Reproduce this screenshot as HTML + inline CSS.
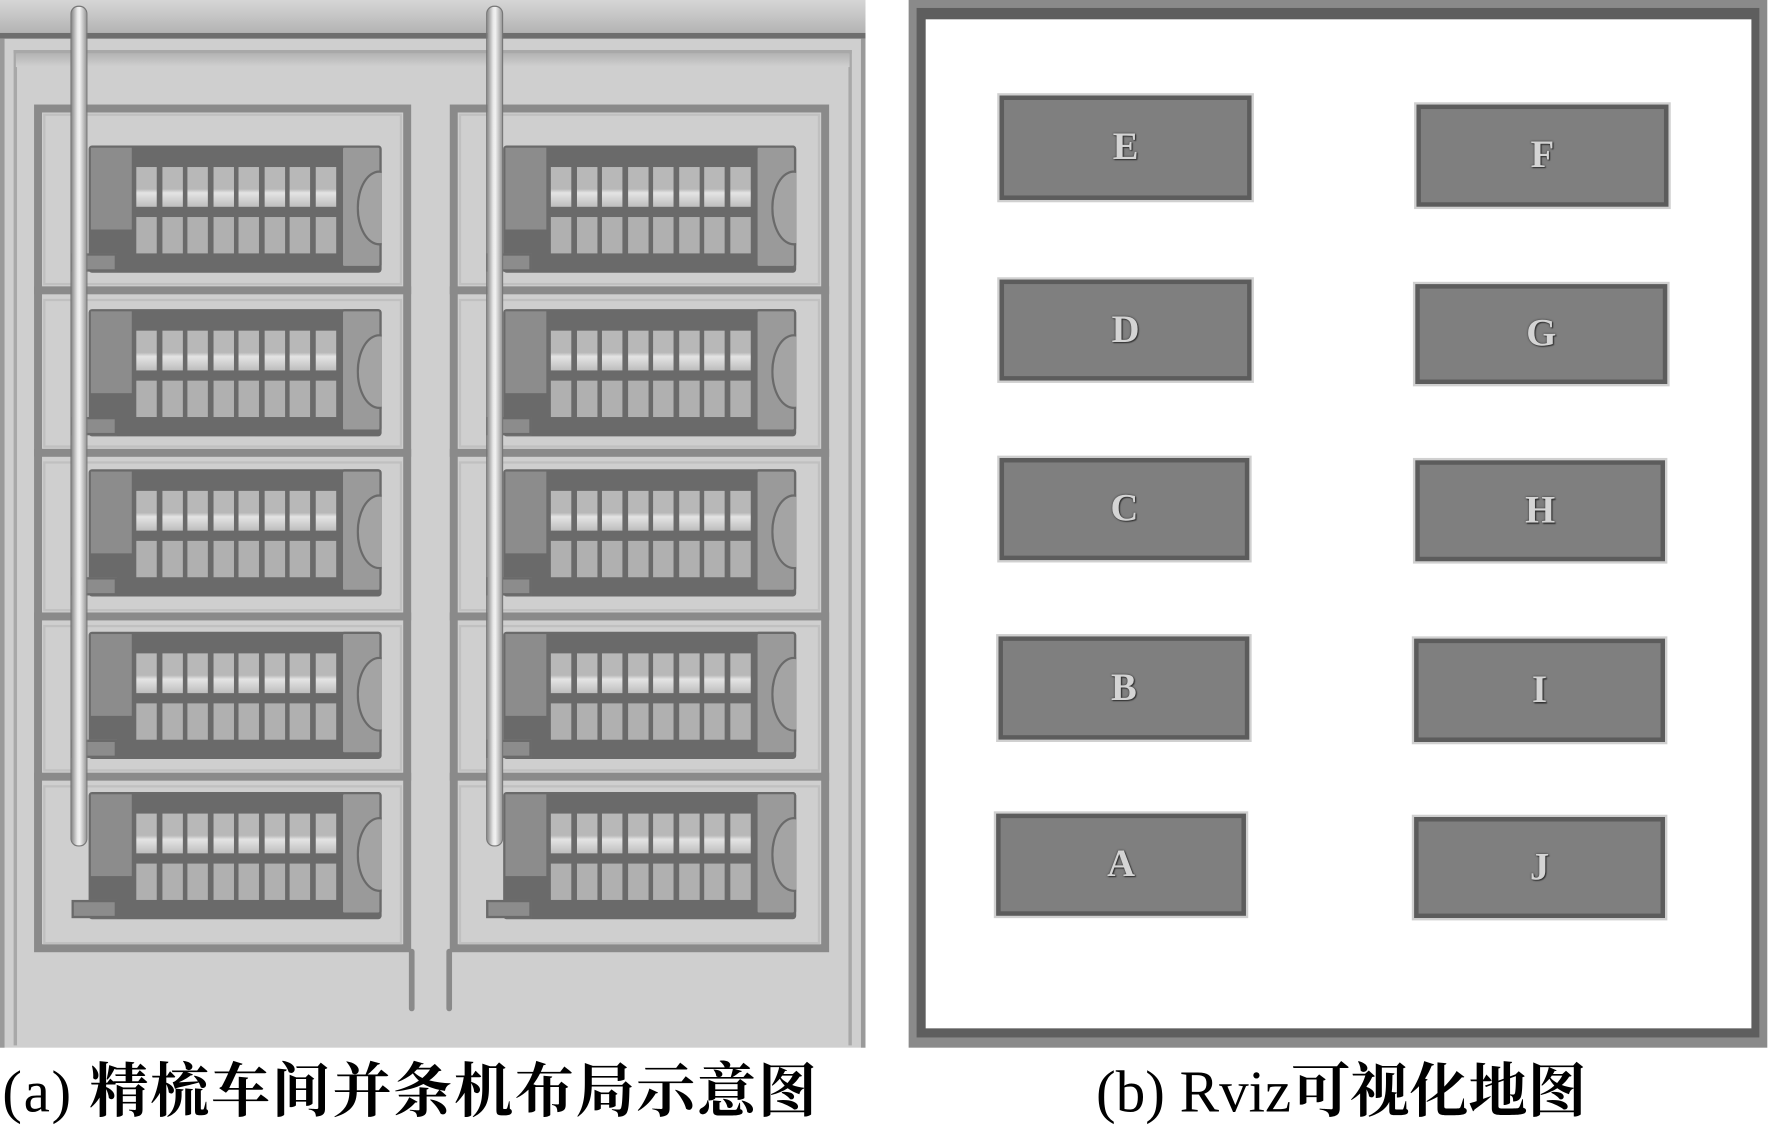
<!DOCTYPE html>
<html><head><meta charset="utf-8">
<style>
html,body{margin:0;padding:0;background:#fff;width:1773px;height:1134px;overflow:hidden}
#w{position:absolute;left:0;top:0;width:1561px;height:998px;transform:scale(1.1358,1.1363);transform-origin:0 0}
.a{position:absolute;box-sizing:border-box}
.cap{position:absolute;font-family:"Liberation Serif","Noto Serif CJK SC","Noto Sans CJK SC",serif;font-size:52px;font-weight:bold;color:#000;white-space:nowrap;line-height:1}
.cap span{font-weight:normal}
.box{position:absolute;box-sizing:border-box;background:#7f7f7f;border:4px solid #5c5c5c;outline:2px solid #d0d0d0}
.lab{position:absolute;left:0;right:0;top:50%;transform:translateY(-50%);text-align:center;font-family:"Liberation Serif",serif;font-weight:bold;font-size:34px;color:#d4d4d4;text-shadow:0 0 2px #333,1px 1px 1px #333}
</style></head><body>
<div id="w">
<div class="a" style="left:0;top:0;width:762px;height:922px;background:#cfcfcf"></div>
<div class="a" style="left:0;top:0;width:762px;height:32px;background:linear-gradient(#d6d6d6,#b0b0b0)"></div>
<div class="a" style="left:0;top:29px;width:762px;height:5px;background:#6e6e6e"></div>
<div class="a" style="left:0;top:34px;width:762px;height:888px;border-left:4px solid #9a9a9a;border-right:4px solid #9a9a9a"></div>
<div class="a" style="left:12px;top:44px;width:738px;height:876px;border:3px solid #a8a8a8;border-bottom:none"></div>
<div class="a" style="left:14px;top:47px;width:734px;height:12px;background:linear-gradient(#b4b4b4,#d0d0d0)"></div>
<div id="L"></div>
<div class="a" style="left:800px;top:0;width:756px;height:922px;background:#8a8a8a"></div>
<div class="a" style="left:807px;top:7px;width:742px;height:906px;background:#5e5e5e"></div>
<div class="a" style="left:815px;top:17px;width:727px;height:888px;background:#fff"></div>
<div class="box" style="left:880px;top:84px;width:222px;height:92px"><div class="lab">E</div></div>
<div class="box" style="left:1247px;top:92px;width:222px;height:90px"><div class="lab">F</div></div>
<div class="box" style="left:880px;top:246px;width:222px;height:89px"><div class="lab">D</div></div>
<div class="box" style="left:1246px;top:250px;width:222px;height:88px"><div class="lab">G</div></div>
<div class="box" style="left:880px;top:403px;width:220px;height:90px"><div class="lab">C</div></div>
<div class="box" style="left:1246px;top:405px;width:220px;height:89px"><div class="lab">H</div></div>
<div class="box" style="left:879px;top:560px;width:221px;height:91px"><div class="lab">B</div></div>
<div class="box" style="left:1245px;top:562px;width:221px;height:91px"><div class="lab">I</div></div>
<div class="box" style="left:877px;top:716px;width:220px;height:90px"><div class="lab">A</div></div>
<div class="box" style="left:1245px;top:719px;width:221px;height:89px"><div class="lab">J</div></div>
<div class="cap" style="left:2px;top:936px;letter-spacing:1.5px"><span>(a) </span>精梳车间并条机布局示意图</div>
<div class="cap" style="left:965px;top:936px"><span>(b) Rviz</span>可视化地图</div>
</div>
<script>
var h='';
function r(x,y,w,hh,s){h+='<div class="a" style="left:'+x+'px;top:'+y+'px;width:'+w+'px;height:'+hh+'px;'+s+'"></div>';}
var rows=[92,255,398,542,683,835];
[[30,362],[396,730]].forEach(function(c){
  r(c[0],92,c[1]-c[0],746,'border:7px solid #8a8a8a;');
  for(var i=1;i<5;i++) r(c[0],rows[i]-3,c[1]-c[0],7,'background:#8a8a8a;');
  for(var i=0;i<5;i++) r(c[0]+8,rows[i]+8,c[1]-c[0]-16,rows[i+1]-rows[i]-12,'border:2px solid #c0c0c0;');
});
r(360,835,5,55,'background:#8a8a8a;border-radius:3px');
r(393,835,5,55,'background:#8a8a8a;border-radius:3px');
var tops=[128,272,413,556,697];
[78,443].forEach(function(mx){
 tops.forEach(function(my){
  r(mx,my,258,112,'background:#6a6a6a;border-radius:3px');
  r(mx+2,my+2,36,72,'background:#8c8c8c');
  r(mx-15,my+95,40,16,'background:#8c8c8c;border:2px solid #6a6a6a');
  r(mx+222,my,36,108,'background:#9a9a9a;border:2px solid #6a6a6a;border-radius:3px');
  r(mx+236,my+22,40,66,'background:#a4a4a4;border-radius:50%;border:2px solid #6a6a6a;clip-path:inset(0 18px 0 0)');
  for(var k=0;k<8;k++){
    var sx=mx+42+k*22.5;
    r(sx,my+19,18,35,'background:linear-gradient(#b8b8b8 0,#b8b8b8 55%,#e4e4e4 65%,#bdbdbd 100%)');
    r(sx,my+63,18,32,'background:#b0b0b0');
  }
 });
});
[62,428].forEach(function(x){
  r(x,5,15,740,'background:linear-gradient(90deg,#8a8a8a,#e8e8e8 40%,#f2f2f2 55%,#9a9a9a);border-radius:7px;border:1px solid #777');
});
document.getElementById('L').innerHTML=h;
</script>
</body></html>
